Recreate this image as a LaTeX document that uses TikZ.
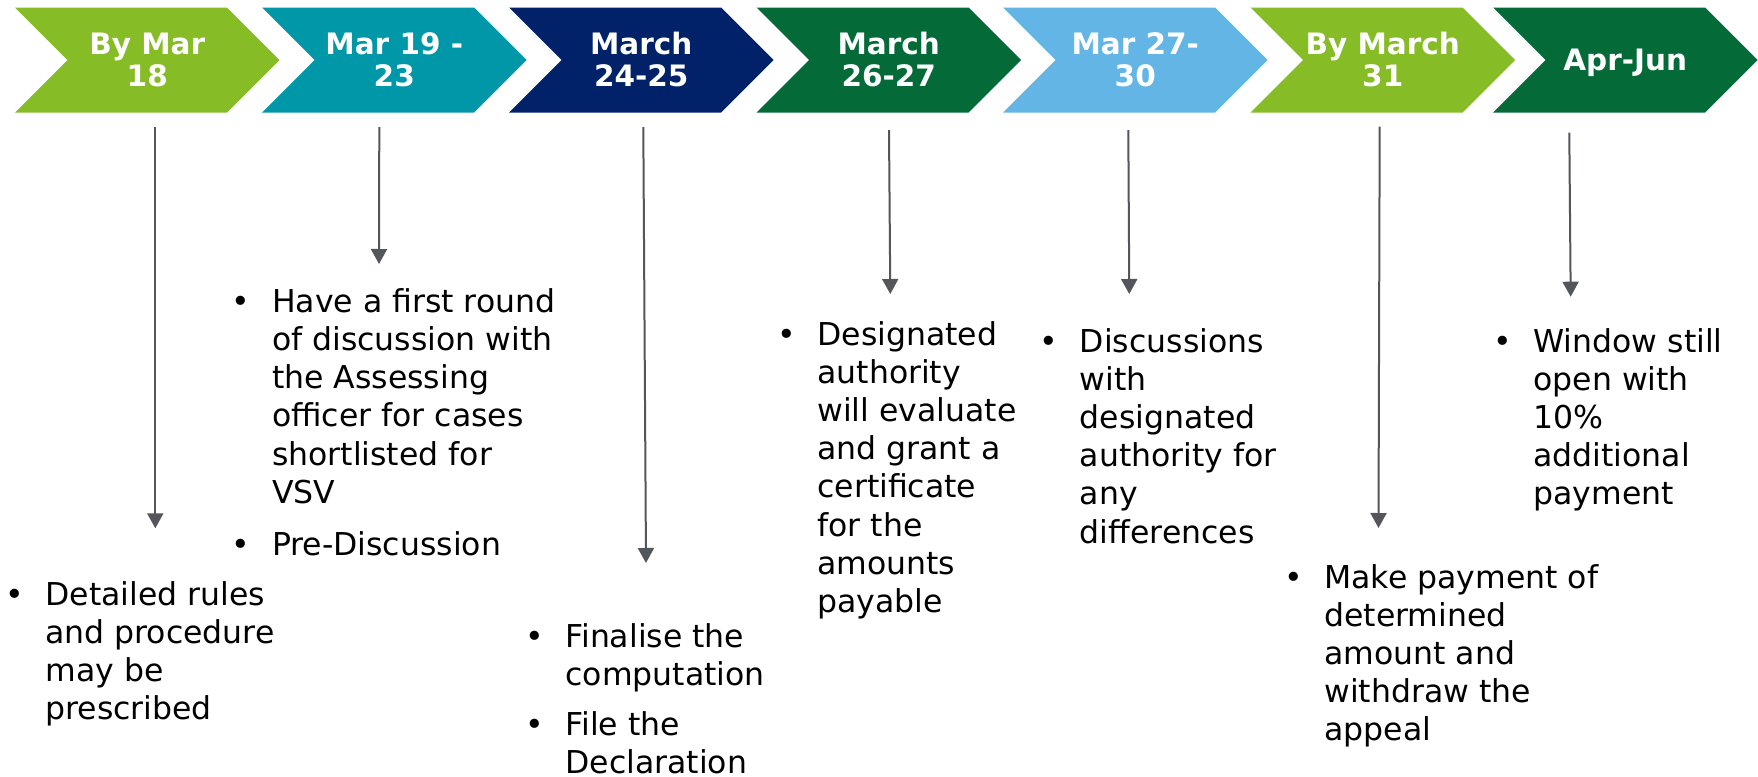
\documentclass[tikz,border=0pt]{standalone}
\usepackage{fontspec}
\setmainfont{DejaVu Sans}
\usetikzlibrary{arrows.meta}

\definecolor{cLime}{HTML}{86BC25}
\definecolor{cTeal}{HTML}{0097A9}
\definecolor{cNavy}{HTML}{012169}
\definecolor{cGreen}{HTML}{046A38}
\definecolor{cSky}{HTML}{62B5E5}
\definecolor{cGray}{HTML}{53565A}

% bullet set centred in a fixed-width slot
\newcommand\bul{\hbox to 31pt{\hss\textbullet\hss}}
% one chevron of the timeline: left edge x, fill colour
\newcommand\chevron[2]{%
  \fill[#2] (#1,7.5) -- ++(212,0) -- ++(52.5,52.5) -- ++(-52.5,52.5)
    -- ++(-212,0) -- ++(52.5,-52.5) -- cycle;}

\tikzset{
  hdr/.style={text=white, inner sep=0pt, anchor=base,
    font=\bfseries\fontsize{14.75}{16}\selectfont},
  body/.style={text=black, inner sep=0pt, anchor=base west,
    font=\fontsize{15.75}{19.1}\selectfont},
  pointer/.style={draw=cGray, line width=1pt,
    -{Triangle[width=8pt,length=7.5pt]}},
}

\begin{document}
\begin{tikzpicture}[x=0.5pt,y=-0.5pt]
\useasboundingbox[fill=white] (0,0) rectangle (1758,777);

% timeline chevrons
\chevron{15}{cLime}
\chevron{262}{cTeal}
\chevron{509}{cNavy}
\chevron{756.5}{cGreen}
\chevron{1003}{cSky}
\chevron{1250.5}{cLime}
\chevron{1493}{cGreen}

% chevron captions (anchored at the last line's baseline)
\node[hdr] (h1) at (147.25,86) {\begin{tabular}[b]{@{}c@{}}By Mar\\18\end{tabular}};
\node[hdr] (h2) at (394.25,86) {\begin{tabular}[b]{@{}c@{}}Mar 19 -\\23\end{tabular}};
\node[hdr] (h3) at (641.25,86) {\begin{tabular}[b]{@{}c@{}}March\\24-25\end{tabular}};
\node[hdr] (h4) at (888.75,86) {\begin{tabular}[b]{@{}c@{}}March\\26-27\end{tabular}};
\node[hdr] (h5) at (1135.25,86) {\begin{tabular}[b]{@{}c@{}}Mar 27-\\30\end{tabular}};
\node[hdr] (h6) at (1382.75,86) {\begin{tabular}[b]{@{}c@{}}By March\\31\end{tabular}};
\node[hdr] (h7) at (1625.25,70) {Apr-Jun};

% pointers from the timeline down to each note
\coordinate (a1s) at (155.3,127);   \coordinate (a1e) at (155.3,528.3);
\coordinate (a2s) at (379.3,127);   \coordinate (a2e) at (379,264);
\coordinate (a3s) at (643.3,127);   \coordinate (a3e) at (646,563);
\coordinate (a4s) at (889,130);     \coordinate (a4e) at (890.3,294);
\coordinate (a5s) at (1128.3,130);  \coordinate (a5e) at (1129.3,294);
\coordinate (a6s) at (1379.7,126.7);\coordinate (a6e) at (1378.5,528);
\coordinate (a7s) at (1569.3,132.7);\coordinate (a7e) at (1570.7,296.7);
\foreach \i in {1,...,7}{\draw[pointer] (a\i s) -- (a\i e);}

% notes
\node[body] (n1) at (-17,605) {\begin{tabular}[t]{@{}l@{}l@{}}
  \bul & Detailed rules\\ & and procedure\\ & may be\\ & prescribed\end{tabular}};
\node[body] (n2) at (209.7,312.3) {\begin{tabular}[t]{@{}l@{}l@{}}
  \bul & Have a first round\\ & of discussion with\\ & the Assessing\\
  & officer for cases\\ & shortlisted for\\ & VSV\\[7.2pt]
  \bul & Pre-Discussion\end{tabular}};
\node[body] (n3) at (503,647) {\begin{tabular}[t]{@{}l@{}l@{}}
  \bul & Finalise the\\ & computation\\[6pt]
  \bul & File the\\ & Declaration\end{tabular}};
\node[body] (n4) at (755,345) {\begin{tabular}[t]{@{}l@{}l@{}}
  \bul & Designated\\ & authority\\ & will evaluate\\ & and grant a\\
  & certificate\\ & for the\\ & amounts\\ & payable\end{tabular}};
\node[body] (n5) at (1017.5,352) {\begin{tabular}[t]{@{}l@{}l@{}}
  \bul & Discussions\\ & with\\ & designated\\ & authority for\\
  & any\\ & differences\end{tabular}};
\node[body] (n6) at (1262,588) {\begin{tabular}[t]{@{}l@{}l@{}}
  \bul & Make payment of\\ & determined\\ & amount and\\
  & withdraw the\\ & appeal\end{tabular}};
\node[body] (n7) at (1471,352) {\begin{tabular}[t]{@{}l@{}l@{}}
  \bul & Window still\\ & open with\\ & 10\%\\ & additional\\
  & payment\end{tabular}};
\end{tikzpicture}
\end{document}
